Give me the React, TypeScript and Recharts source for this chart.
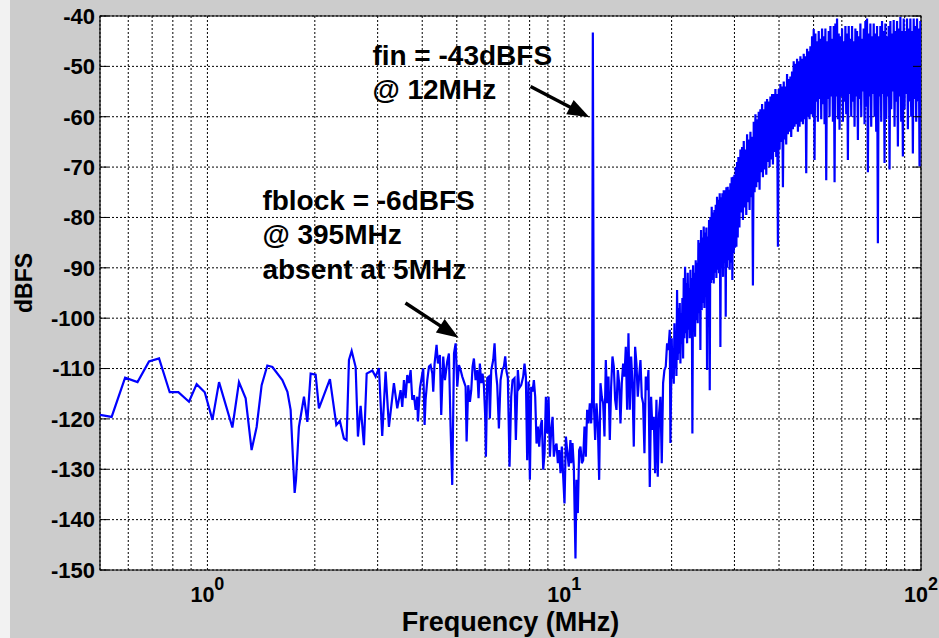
import {
  LineChart, Line, XAxis, YAxis, CartesianGrid,
  ReferenceArea, ReferenceLine, ReferenceDot,
} from "recharts";

// spectrum below 3.4 MHz (sparse FFT bins on the log axis)
const FREQ_LOW = [
  0.5, 0.539, 0.588, 0.637, 0.686, 0.732, 0.784, 0.829, 0.888, 0.933,
  0.983, 1.033, 1.078, 1.175, 1.226, 1.28, 1.33, 1.374, 1.419, 1.472,
  1.521, 1.622, 1.676, 1.711, 1.756, 1.771, 1.805, 1.865, 1.906, 1.947,
  2.011, 2.054, 2.205, 2.298, 2.351, 2.413, 2.455, 2.493, 2.537, 2.603,
  2.642, 2.688, 2.746, 2.795, 2.899, 2.961, 3.025, 3.09, 3.158, 3.227,
  3.332, 3.405,
];
const DBFS_LOW = [
  -119.2, -119.6, -111.8, -112.7, -108.6, -108.0, -114.7, -114.7, -116.6, -113.1,
  -114.7, -120.2, -112.7, -121.7, -112.7, -115.9, -126.2, -121.6, -113.3, -109.4,
  -109.7, -112.3, -114.6, -118.2, -134.7, -132.1, -121.6, -115.6, -120.6, -111.0,
  -111.2, -117.9, -112.1, -121.2, -120.4, -123.9, -124.2, -108.3, -106.5, -109.7,
  -123.5, -117.4, -125.2, -111.0, -110.4, -111.6, -109.9, -123.4, -110.6, -121.6,
  -112.9, -117.9,
];

// 3.5 - 10.4 MHz
const FREQ_MID = [
  3.479, 3.517, 3.555, 3.593, 3.632, 3.671, 3.711, 3.751, 3.792, 3.833,
  3.874, 3.891, 3.942, 4.002, 4.027, 4.062, 4.088, 4.133, 4.178, 4.222,
  4.27, 4.295, 4.332, 4.388, 4.426, 4.484, 4.522, 4.581, 4.631, 4.701,
  4.752, 4.803, 4.855, 4.911, 4.963, 5.016, 5.07, 5.125, 5.18, 5.236,
  5.293, 5.327, 5.383, 5.442, 5.489, 5.536, 5.584, 5.644, 5.705, 5.754,
  5.803, 5.853, 5.904, 5.955, 6.007, 6.033, 6.085, 6.15, 6.19, 6.245,
  6.325, 6.38, 6.435, 6.491, 6.561, 6.632, 6.704, 6.775, 6.834, 6.892,
  6.952, 7.027, 7.103, 7.164, 7.257, 7.32, 7.415, 7.479, 7.576, 7.675,
  7.741, 7.808, 7.875, 7.943, 8.013, 8.082, 8.152, 8.222, 8.293, 8.365,
  8.437, 8.51, 8.584, 8.658, 8.733, 8.809, 8.885, 8.962, 9.04, 9.118,
  9.195, 9.275, 9.354, 9.434, 9.517, 9.598, 9.681, 9.766, 9.849, 9.935,
  10.02, 10.11, 10.19, 10.3, 10.41,
];
const DBFS_MID = [
  -114.3, -117.6, -112.3, -115.9, -111.3, -112.9, -110.3, -116.2, -115.3, -118.2,
  -115.6, -120.5, -113.9, -111.0, -110.0, -121.2, -116.2, -112.3, -109.6, -109.3,
  -111.0, -114.6, -109.0, -105.3, -109.0, -107.3, -119.2, -107.6, -112.3, -108.6,
  -107.0, -121.5, -133.1, -107.0, -105.0, -113.6, -109.3, -110.3, -111.6, -112.6,
  -113.6, -124.5, -113.3, -116.6, -114.3, -109.6, -108.0, -112.3, -110.3, -115.9,
  -109.0, -112.9, -111.0, -113.3, -119.6, -127.5, -111.9, -111.6, -119.9, -110.3,
  -108.3, -105.0, -110.6, -113.3, -121.9, -112.3, -110.3, -109.6, -107.6, -110.6,
  -111.9, -129.5, -115.6, -112.3, -111.9, -124.2, -110.3, -113.9, -113.3, -111.6,
  -109.0, -111.6, -128.2, -112.6, -132.1, -113.6, -114.6, -112.3, -115.6, -124.9,
  -121.5, -125.5, -121.5, -120.2, -130.1, -126.8, -115.6, -122.9, -115.6, -127.5,
  -122.2, -119.6, -127.5, -125.5, -124.9, -128.8, -126.2, -130.8, -125.5, -131.5,
  -136.8, -123.5, -126.2, -129.5, -124.2,
];

// 10.4 - 20 MHz, with the -43 dBFS tone at 12 MHz
const FREQ_TONE = [
  10.46, 10.55, 10.64, 10.755, 10.825, 10.918, 11.013, 11.108, 11.204, 11.301,
  11.399, 11.497, 11.596, 11.697, 11.798, 11.9, 11.977, 12.03, 12.107, 12.211,
  12.316, 12.422, 12.53, 12.638, 12.747, 12.857, 12.968, 13.08, 13.193, 13.307,
  13.422, 13.538, 13.655, 13.773, 13.892, 14.012, 14.133, 14.255, 14.378, 14.502,
  14.628, 14.754, 14.881, 15.01, 15.139, 15.27, 15.402, 15.535, 15.669, 15.804,
  15.941, 16.078, 16.217, 16.357, 16.498, 16.641, 16.784, 16.929, 17.075, 17.223,
  17.371, 17.521, 17.673, 17.825, 17.979, 18.134, 18.291, 18.449, 18.608, 18.769,
  18.931, 19.094, 19.259, 19.425, 19.593, 19.762, 19.847,
];
const DBFS_TONE = [
  -128.8, -124.8, -129.5, -147.7, -132.1, -138.7, -126.2, -125.5, -128.8, -128.2,
  -121.5, -127.5, -118.2, -120.9, -116.9, -120.9, -115.6, -43.3, -116.9, -124.2,
  -116.9, -120.9, -132.1, -112.9, -115.6, -116.9, -123.5, -108.3, -116.9, -111.6,
  -124.2, -113.6, -107.6, -109.6, -116.2, -118.2, -110.3, -112.9, -120.9, -112.9,
  -109.0, -111.6, -105.7, -118.2, -103.0, -118.2, -107.6, -112.9, -125.5, -105.7,
  -109.0, -115.6, -111.6, -108.3, -115.6, -116.9, -126.8, -111.6, -114.3, -110.3,
  -133.5, -115.6, -122.2, -119.6, -130.8, -116.2, -131.5, -118.9, -115.6, -128.8,
  -112.9, -110.3, -109.6, -105.0, -106.3, -102.3, -124.8,
];

// 20 - 31 MHz, noise shaping rise
const FREQ_RISE = [
  20.018, 20.1, 20.191, 20.28, 20.366, 20.45, 20.541, 20.63, 20.719, 20.81,
  20.898, 20.99, 21.078, 21.17, 21.26, 21.35, 21.444, 21.54, 21.629, 21.72,
  21.816, 21.91, 22.004, 22.1, 22.194, 22.29, 22.386, 22.48, 22.579, 22.68,
  22.774, 22.87, 22.971, 23.07, 23.169, 23.27, 23.369, 23.47, 23.571, 23.67,
  23.775, 23.88, 23.98, 24.08, 24.187, 24.29, 24.396, 24.5, 24.607, 24.71,
  24.819, 24.93, 25.033, 25.14, 25.25, 25.36, 25.468, 25.58, 25.688, 25.8,
  25.909, 26.02, 26.133, 26.25, 26.359, 26.47, 26.587, 26.7, 26.816, 26.93,
  27.048, 27.16, 27.282, 27.4, 27.517, 27.64, 27.755, 27.88, 27.995, 28.12,
  28.237, 28.36, 28.48, 28.6, 28.726, 28.85, 28.974, 29.1, 29.224, 29.35,
  29.477, 29.6, 29.732, 29.86, 29.989, 30.12, 30.248, 30.38, 30.509, 30.64,
  30.773, 30.98,
];
const DBFS_RISE = [
  -104, -112, -106, -113, -101, -110, -103, -111.5, -94.4, -108.3,
  -98, -107, -97, -109, -99, -105, -96, -108, -92, -104,
  -89.8, -103, -93, -105, -91, -102.3, -94, -104, -90.4, -101,
  -92, -122.9, -89.5, -102, -91, -103.7, -88.5, -100.4, -89, -101,
  -84.5, -99, -85, -106.3, -82.5, -98.4, -84, -97, -81.8, -98,
  -83, -95.7, -82, -110.3, -83.8, -94, -80.5, -114.3, -79.9, -93,
  -77.9, -92.4, -79, -93.1, -78.5, -91, -77.5, -92, -75.9, -90.4,
  -76.5, -91.1, -75.2, -105.7, -76, -90, -75.2, -91.8, -74.6, -89,
  -74.6, -99.7, -74, -90, -73.9, -88.5, -74.5, -90.4, -73.2, -89,
  -72, -92.4, -71.9, -87.1, -71.5, -86, -70, -85.8, -69, -84,
  -68, -82,
];

// 31 - 100 MHz, dense band near full scale
const FREQ_HIGH = [
  31.18, 31.35, 31.52, 31.69, 31.86, 32.03, 32.2, 32.38, 32.55, 32.73,
  32.9, 33.08, 33.26, 33.44, 33.62, 33.8, 33.98, 34.17, 34.35, 34.54,
  34.72, 34.9, 35.09, 35.28, 35.47, 35.67, 35.86, 36.05, 36.24, 36.44,
  36.64, 36.84, 37.03, 37.23, 37.43, 37.64, 37.84, 38.05, 38.25, 38.46,
  38.66, 38.87, 39.08, 39.29, 39.5, 39.72, 39.93, 40.15, 40.36, 40.58,
  40.8, 41.02, 41.24, 41.46, 41.68, 41.9, 42.13, 42.36, 42.59, 42.82,
  43.05, 43.28, 43.51, 43.75, 43.98, 44.22, 44.46, 44.7, 44.94, 45.19,
  45.43, 45.68, 45.92, 46.17, 46.41, 46.67, 46.92, 47.17, 47.42, 47.68,
  47.94, 48.2, 48.46, 48.72, 48.98, 49.25, 49.51, 49.78, 50.04, 50.31,
  50.58, 50.86, 51.13, 51.41, 51.68, 51.96, 52.24, 52.53, 52.81, 53.1,
  53.38, 53.67, 53.96, 54.25, 54.54, 54.84, 55.13, 55.43, 55.73, 56.03,
  56.33, 56.64, 56.94, 57.25, 57.55, 57.86, 58.17, 58.49, 58.8, 59.12,
  59.44, 59.76, 60.08, 60.41, 60.73, 61.06, 61.39, 61.72, 62.05, 62.39,
  62.72, 63.06, 63.4, 63.75, 64.09, 64.44, 64.78, 65.13, 65.48, 65.84,
  66.19, 66.55, 66.9, 67.27, 67.63, 68.0, 68.36, 68.73, 69.1, 69.47,
  69.84, 70.22, 70.6, 70.98, 71.36, 71.75, 72.13, 72.52, 72.91, 73.31,
  73.7, 74.1, 74.5, 74.9, 75.3, 75.71, 76.12, 76.53, 76.94, 77.36,
  77.77, 78.19, 78.61, 79.04, 79.46, 79.89, 80.32, 80.76, 81.19, 81.63,
  82.07, 82.52, 82.96, 83.41, 83.85, 84.31, 84.76, 85.22, 85.68, 86.14,
  86.6, 87.07, 87.54, 88.01, 88.48, 88.96, 89.44, 89.93, 90.41, 90.9,
  91.38, 91.88, 92.37, 92.87, 93.37, 93.88, 94.38, 94.89, 95.4, 95.92,
  96.43, 96.95, 97.47, 98.0, 98.52, 99.06, 99.59, 100,
];
const DBFS_HIGH = [
  -66.5, -79, -66, -80.5, -64.8, -78, -66.5, -79.5, -63.5, -77,
  -64.5, -78.5, -63, -76, -64, -93.5, -61, -75, -59.5, -74,
  -60.5, -73, -59, -74.5, -58.5, -71, -57.5, -72, -58.5, -70.5,
  -57, -71.5, -56.5, -69, -57, -70, -56, -68.5, -55.5, -69.5,
  -55.5, -67, -54.5, -68, -55.5, -85.8, -54.5, -66.5, -53.5, -65,
  -54, -74, -53, -64.5, -54, -65.5, -51.5, -63.5, -52.5, -63,
  -52, -64, -51, -62.5, -49, -62, -49.5, -61.5, -48.5, -63,
  -49, -62, -48, -61, -48.5, -61.5, -47.5, -60.5, -48, -71.2,
  -46.5, -60, -47, -60.5, -46, -59.5, -44, -60, -42.6, -68.6,
  -43.5, -57, -45, -61, -43, -56.5, -44.5, -60.5, -42.5, -57.5,
  -44, -61.5, -42.5, -72.6, -45, -56.5, -43, -60, -42, -56,
  -44.5, -61, -42, -73, -41.5, -56, -40.5, -60.5, -43.5, -62.6,
  -44, -56, -42.5, -61, -45, -57, -42, -59.5, -43.5, -68.6,
  -42, -55.5, -44.5, -60, -42, -57, -45, -62, -42.5, -56,
  -43, -64.6, -44, -56.5, -41.5, -60, -44.5, -55, -42.5, -61.5,
  -41, -58, -40.5, -71, -43.5, -56, -41.5, -62, -44, -55.5,
  -41.5, -60, -43.5, -63, -42, -85.1, -44, -56, -42, -61,
  -41, -55.5, -43, -69.2, -41.5, -60.5, -44, -56, -42, -70.5,
  -41, -58.5, -43.5, -55, -40.8, -62, -43, -57, -41, -65.9,
  -42.5, -56, -40.2, -61, -43, -67.9, -40.5, -58.5, -43, -55.5,
  -40.5, -62.5, -42.5, -57, -40.5, -60, -43, -67.3, -40.5, -56.5,
  -42, -61, -40.5, -57, -42.5, -69.9, -41, -58,
];

const X_GRID = [
  0.5, 0.6, 0.7, 0.8, 0.9, 1, 2, 3, 4, 5, 6, 7, 8, 9,
  10, 20, 30, 40, 50, 60, 70, 80, 90, 100,
];
const DECADES = [1, 10, 100];
const Y_TICKS = [-150, -140, -130, -120, -110, -100, -90, -80, -70, -60, -50, -40];

const FIN_NOTE = ["fin = -43dBFS", "@ 12MHz"];
const BLOCK_NOTE = ["fblock = -6dBFS", "@ 395MHz", "absent at 5MHz"];

const rows = (fs: number[], vs: number[]) => fs.map((f, i) => ({ f, dbfs: vs[i] }));
const DATA = [
  ...rows(FREQ_LOW, DBFS_LOW),
  ...rows(FREQ_MID, DBFS_MID),
  ...rows(FREQ_TONE, DBFS_TONE),
  ...rows(FREQ_RISE, DBFS_RISE),
  ...rows(FREQ_HIGH, DBFS_HIGH),
];

const FONT = "'Liberation Sans', Arial, Helvetica, sans-serif";

function DecadeTick(props: any) {
  const { x, y, payload } = props;
  if (!DECADES.includes(payload.value)) return null;
  const exp = Math.round(Math.log10(payload.value));
  return (
    <text x={x} y={y + 32} textAnchor="middle" fill="#000"
      fontSize={21.5} fontWeight="bold" fontFamily={FONT}>
      10<tspan dy={-12} fontSize={18}>{exp}</tspan>
    </text>
  );
}

const NoTick = () => null;

function YTitle(props: any) {
  const { viewBox } = props;
  const cx = viewBox.x + 14;
  const cy = viewBox.y + viewBox.height / 2 - 10;
  return (
    <text x={cx} y={cy} transform={`rotate(-90 ${cx} ${cy})`} textAnchor="middle"
      dominantBaseline="central" fill="#000" fontSize={23} fontWeight="bold" fontFamily={FONT}>
      dBFS
    </text>
  );
}

function XTitle(props: any) {
  const { viewBox } = props;
  return (
    <text x={viewBox.x + viewBox.width / 2} y={viewBox.y + 61} textAnchor="middle"
      fill="#000" fontSize={27} fontWeight="bold" fontFamily={FONT}>
      Frequency (MHz)
    </text>
  );
}

function Note({ cx, cy, lines }: { cx: number; cy: number; lines: string[] }) {
  return (
    <text x={cx} y={cy} fill="#000" fontSize={28} fontWeight="bold" fontFamily={FONT}>
      {lines.map((s, i) => (
        <tspan key={i} x={cx} dy={i === 0 ? 0 : 34.5}>{s}</tspan>
      ))}
    </text>
  );
}

function Arrow(props: any) {
  const { x1, y1, x2, y2 } = props;
  const len = Math.hypot(x2 - x1, y2 - y1);
  const ux = (x2 - x1) / len, uy = (y2 - y1) / len;
  const head = 22, half = 8;
  const bx = x2 - ux * head, by = y2 - uy * head;
  const pts = `${x2},${y2} ${bx - uy * half},${by + ux * half} ${bx + uy * half},${by - ux * half}`;
  return (
    <g>
      <line x1={x1} y1={y1} x2={bx + ux * 2} y2={by + uy * 2} stroke="#000" strokeWidth={3.5} />
      <polygon points={pts} fill="#000" />
    </g>
  );
}

export default function App() {
  return (
    <div style={{ position: "absolute", left: 0, top: 0, width: 939, height: 638, background: "#cccccc", overflow: "hidden" }}>
      <div style={{ position: "absolute", left: 0, top: 0, width: 10, height: 638, background: "#f2f2f2" }} />
      <div style={{ position: "absolute", left: 0, top: 0 }}>
        <LineChart width={939} height={638} data={DATA} margin={{ top: 16, right: 0, left: 10, bottom: 0 }}>
          <CartesianGrid stroke="#000" strokeDasharray="2 2" fill="#fff" fillOpacity={1} />
          <XAxis
            dataKey="f" type="number" scale="log" domain={[0.5, 100]} allowDataOverflow
            ticks={X_GRID} interval={0} height={68} tickSize={0} tickMargin={0}
            axisLine={false} tickLine={false} tick={DecadeTick} label={XTitle}
          />
          <YAxis
            type="number" domain={[-150, -40]} allowDataOverflow ticks={Y_TICKS} interval={0}
            width={90} tickSize={-8} tickMargin={13} axisLine={false}
            tickLine={{ stroke: "#000", strokeWidth: 1 }}
            tick={{ fill: "#000", fontSize: 22, fontWeight: 700, fontFamily: FONT }}
            label={YTitle}
          />
          <YAxis
            yAxisId="right" orientation="right" type="number" domain={[-150, -40]}
            allowDataOverflow ticks={Y_TICKS} interval={0} width={18} tickSize={-8}
            axisLine={false} tickLine={{ stroke: "#000", strokeWidth: 1 }} tick={NoTick}
          />
          <Line
            type="linear" dataKey="dbfs" stroke="#0000ff" strokeWidth={2.2}
            dot={false} activeDot={false} isAnimationActive={false}
          />
          <ReferenceArea x1={0.5} x2={100} y1={-150} y2={-40} fill="none" stroke="#000" strokeWidth={1.2} />
          <ReferenceDot x={2.9} y={-49.7} r={0}
            shape={(p: any) => <Note cx={p.cx} cy={p.cy} lines={FIN_NOTE} />} />
          <ReferenceDot x={1.426} y={-78.5} r={0}
            shape={(p: any) => <Note cx={p.cx} cy={p.cy} lines={BLOCK_NOTE} />} />
          <ReferenceLine segment={[{ x: 8.05, y: -54.0 }, { x: 11.77, y: -60.1 }]} shape={Arrow} />
          <ReferenceLine segment={[{ x: 3.59, y: -97.0 }, { x: 5.06, y: -103.9 }]} shape={Arrow} />
        </LineChart>
      </div>
    </div>
  );
}
